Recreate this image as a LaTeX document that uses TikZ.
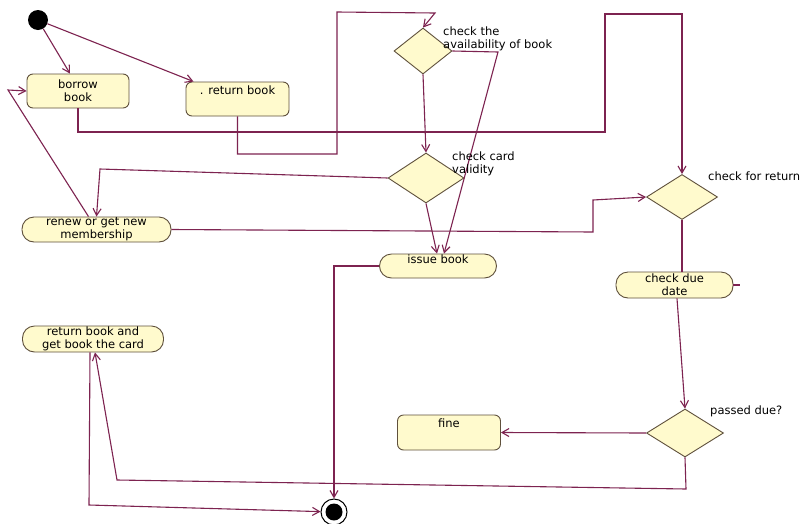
\documentclass[tikz,border=0pt]{standalone}
\usepackage{fontspec}
\setmainfont{DejaVu Sans}
\usetikzlibrary{shapes.geometric,arrows.meta}
\definecolor{linec}{RGB}{125,35,80}
\definecolor{boxfill}{RGB}{255,250,205}
\definecolor{boxline}{RGB}{95,80,60}
\tikzset{
  every node/.style={font=\fontsize{11.5}{13}\selectfont},
  conn/.style={draw=linec, line width=1.1pt},
  arr/.style={conn, -{Straight Barb[length=7pt,width=8pt]}},
  actbox/.style={draw=boxline, fill=boxfill, line width=0.9pt, rectangle, rounded corners=6pt, inner sep=0pt, align=center},
  pill/.style={draw=boxline, fill=boxfill, line width=0.9pt, rectangle, rounded corners=12pt, inner sep=0pt, align=center},
  decis/.style={draw=boxline, fill=boxfill, line width=0.9pt, diamond, inner sep=0pt},
  lbl/.style={anchor=north west, inner sep=0pt, align=left},
}
\begin{document}
\begin{tikzpicture}[x=1pt,y=-1pt]
\useasboundingbox (0,0) rectangle (801,523);
\fill[white] (0,0) rectangle (801,523);

% start / end
\node[circle, fill=black, minimum size=20pt, inner sep=0pt] (init) at (38,20) {};
\node[circle, draw=black, line width=1pt, fill=white, minimum size=26pt, inner sep=0pt,
      path picture={\fill[black] (path picture bounding box.center) circle (8.5pt);}] (final) at (334,512) {};

% activities
\node[actbox, minimum width=102pt, minimum height=34pt] (borrow) at (78,91) {borrow\\book};
\node[actbox, minimum width=103pt, minimum height=34pt, text height=8pt, text depth=18pt] (ret) at (237.5,99) {. return book};
\node[pill, minimum width=149pt, minimum height=25pt] (renew) at (96.5,229.5) {renew or get new\\membership};
\node[pill, minimum width=117pt, minimum height=24pt, text height=8pt, text depth=14pt] (issue) at (438,266) {issue book};
\node[pill, minimum width=117pt, minimum height=26pt] (due) at (674.5,285) {check due\\date};
\node[pill, minimum width=141pt, minimum height=26pt] (card) at (93,339) {return book and\\get book the card};
\node[actbox, minimum width=103pt, minimum height=35pt, text height=8pt, text depth=19pt] (fine) at (449,432.5) {fine};

% decisions
\node[decis, minimum width=58pt, minimum height=46pt] (d1) at (423,51) {};
\node[decis, minimum width=76pt, minimum height=50pt] (d2) at (426,178) {};
\node[decis, minimum width=71pt, minimum height=45pt] (d3) at (682,197) {};
\node[decis, minimum width=77pt, minimum height=48pt] (d4) at (685,433) {};

% connectors
\draw[arr] (init) -- ([xshift=-8pt]borrow.north);
\draw[arr] (init) -- ([xshift=-44pt]ret.north);
\draw[arr] (borrow.south) -- (78,132) -| (605,14) -| (d3.north);
\draw[arr] (ret.south) |- (337,154) -- (337,12) -- (435,13) -- (d1.north);
\draw[arr] (d1.south) -- (d2.north);
\draw[arr] (d1.east) -- (498,52) -- ([xshift=6pt]issue.north);
\draw[arr] (d2.south) -- ([xshift=-1pt]issue.north);
\draw[arr] (d2.west) -- (100,169) -- (renew.north);
\draw[arr] ([xshift=-8pt]renew.north) -- (8,90) -- (borrow.west);
\draw[arr] (renew.east) -- (593,232) -- (593,200) -- (d3.west);
\draw[conn] (d3.south) -- (d3.south |- due.north);
\draw[arr] ([xshift=2.5pt]due.south) -- (d4.north);
\draw[conn] (due.east) -- ++(7,0);
\draw[arr] (d4.west) -- (fine.east);
\draw[arr] (d4.south) -- (686,489) -- (117,480) -- ([xshift=2pt]card.south);
\draw[arr] ([xshift=-3pt]card.south) -- (89,505) -- (final);
\draw[arr] (issue.west) -| (final.north);

% labels
\node[lbl] (l1) at (443,27) {check the\\availability of book};
\node[lbl] (l2) at (452,152) {check card\\validity};
\node[lbl] (l3) at (708,172) {check for return};
\node[lbl] (l4) at (710,406) {passed due?};
\end{tikzpicture}
\end{document}
